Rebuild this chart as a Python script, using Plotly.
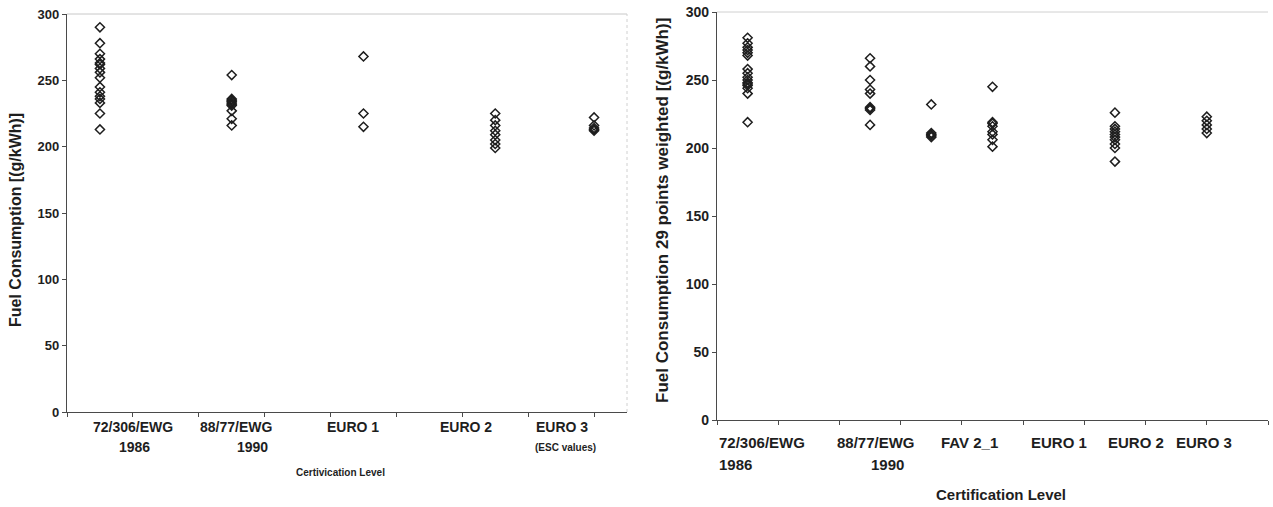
import plotly.graph_objects as go

# ---- left panel: fuel consumption by certification level ----
left_labels_top = ["72/306/EWG", "88/77/EWG", "EURO 1", "EURO 2", "EURO 3"]
left_labels_bottom = ["1986", "1990", "", "", "(ESC values)"]
left_cat_x = [0.5, 2.5, 4.5, 6.5, 8.0]
left_values = [
    [290, 278, 270, 266, 263, 262, 259, 256, 252, 245, 241, 238, 236, 233, 225, 213],
    [254, 236, 235, 234, 233, 232, 231, 227, 221, 216],
    [268, 225, 215],
    [225, 220, 216, 212, 209, 205, 202, 199],
    [222, 216, 214, 213, 212],
]

# ---- right panel: 29-point weighted fuel consumption ----
right_labels_top = ["72/306/EWG", "88/77/EWG", "FAV 2_1", "EURO 1", "EURO 2", "EURO 3"]
right_labels_bottom = ["1986", "1990", "", "", "", ""]
right_cat_x = [0.5, 2.5, 3.5, 4.5, 6.5, 8.0]
right_values = [
    [281, 277, 274, 272, 270, 268, 258, 255, 252, 250, 248, 247, 246, 244, 240, 219],
    [266, 260, 250, 243, 240, 230, 229, 228, 217],
    [232, 211, 210, 209, 208],
    [245, 219, 218, 216, 212, 210, 206, 201],
    [226, 216, 214, 212, 210, 208, 206, 203, 200, 190],
    [223, 220, 217, 214, 211],
]

# label anchor positions along each x axis (axis units)
left_top_pos = [1.0, 2.56, 4.34, 6.05, 7.51]
left_bottom_pos = [1.03, 2.82, 0, 0, 7.57]
right_top_pos = [0.0, 1.93, 3.63, 5.09, 6.36, 7.46]
right_bottom_pos = [0.0, 2.49, 0, 0, 0, 0]

W, H = 1273, 507
FONT = "Liberation Sans, Arial, sans-serif"
INK = "#1e1e1e"
AXIS = "#4a4a4a"


def py(px):
    """pixel row from the top -> paper y"""
    return (H - px) / H


fig = go.Figure()

marker = dict(symbol="diamond-open", size=7, color=INK, line=dict(width=1.5, color=INK))

for cx, vals in zip(left_cat_x, left_values):
    fig.add_trace(go.Scatter(x=[cx] * len(vals), y=vals, mode="markers",
                             marker=marker, xaxis="x", yaxis="y", showlegend=False))
for cx, vals in zip(right_cat_x, right_values):
    fig.add_trace(go.Scatter(x=[cx] * len(vals), y=vals, mode="markers",
                             marker=marker, xaxis="x2", yaxis="y2", showlegend=False))

xax_common = dict(showgrid=False, zeroline=False, showline=True, linecolor=AXIS, linewidth=1.2,
                  ticks="outside", ticklen=4, tickcolor=AXIS, showticklabels=False,
                  dtick=1, tick0=0, automargin=False)
yax_common = dict(showgrid=False, zeroline=False, showline=True, linecolor=AXIS, linewidth=1.2,
                  ticks="outside", ticklen=4, tickcolor=AXIS, range=[0, 300], dtick=50,
                  automargin=False)

fig.update_layout(
    width=W, height=H,
    margin=dict(l=0, r=0, t=0, b=0, autoexpand=False),
    paper_bgcolor="white", plot_bgcolor="white",
    xaxis=dict(domain=[67 / W, 627 / W], range=[0, 8.5], anchor="y", **xax_common),
    yaxis=dict(domain=[py(412), py(14)], anchor="x",
               tickfont=dict(family=FONT, size=13, color=INK, weight="bold"), **yax_common),
    xaxis2=dict(domain=[717 / W, 1268 / W], range=[0, 9], anchor="y2", **xax_common),
    yaxis2=dict(domain=[py(420), py(12)], anchor="x2",
                tickfont=dict(family=FONT, size=14, color=INK, weight="bold"), **yax_common),
)


def bold(size):
    return dict(family=FONT, size=size, color=INK, weight="bold")


ann = []
for txt, px in zip(left_labels_top, left_top_pos):
    ann.append(dict(text=txt, x=px, y=py(427), xref="x", yref="paper", xanchor="center",
                    yanchor="middle", showarrow=False, font=bold(14)))
for txt, px in zip(left_labels_bottom, left_bottom_pos):
    if txt:
        small = txt.startswith("(")
        ann.append(dict(text=txt, x=px, y=py(447), xref="x", yref="paper", xanchor="center",
                        yanchor="middle", showarrow=False, font=bold(10 if small else 14)))
for txt, px in zip(right_labels_top, right_top_pos):
    ann.append(dict(text=txt, x=px, y=py(442), xref="x2", yref="paper", xanchor="left",
                    yanchor="middle", showarrow=False, font=bold(15)))
for txt, px in zip(right_labels_bottom, right_bottom_pos):
    if txt:
        ann.append(dict(text=txt, x=px, y=py(464), xref="x2", yref="paper", xanchor="left",
                        yanchor="middle", showarrow=False, font=bold(15)))

# axis titles
ann.append(dict(text="Certivication Level", x=340 / W, y=py(472), xref="paper", yref="paper",
                xanchor="center", yanchor="middle", showarrow=False, font=bold(10)))
ann.append(dict(text="Certification Level", x=1001 / W, y=py(494), xref="paper", yref="paper",
                xanchor="center", yanchor="middle", showarrow=False, font=bold(15)))
ann.append(dict(text="Fuel Consumption [(g/kWh)]", x=15 / W, y=py(220), xref="paper", yref="paper",
                xanchor="center", yanchor="middle", textangle=-90, showarrow=False, font=bold(16)))
ann.append(dict(text="Fuel Consumption 29 points weighted [(g/kWh)]", x=662 / W, y=py(211),
                xref="paper", yref="paper", xanchor="center", yanchor="middle", textangle=-90,
                showarrow=False, font=bold(17)))
fig.update_layout(annotations=ann)

# faint plot-area frame edges
fig.add_shape(type="line", xref="x domain", yref="y domain", x0=0, x1=1, y0=1, y1=1,
              line=dict(color="#c8c8c8", width=1))
fig.add_shape(type="line", xref="x domain", yref="y domain", x0=1, x1=1, y0=0, y1=1,
              line=dict(color="#d0d0d0", width=1, dash="dot"))
fig.add_shape(type="line", xref="x2 domain", yref="y2 domain", x0=0, x1=1, y0=1, y1=1,
              line=dict(color="#d0d0d0", width=1))

fig.write_html("out.html")
